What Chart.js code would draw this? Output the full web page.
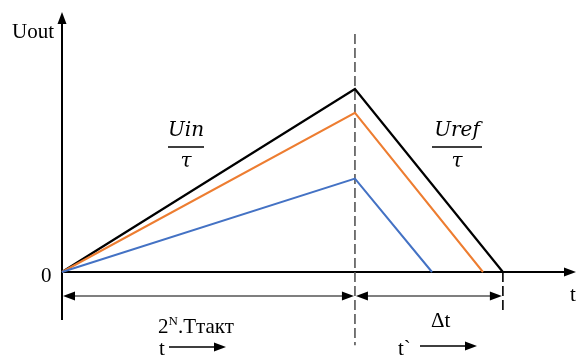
<!DOCTYPE html>
<html>
<head>
<meta charset="utf-8">
<script src="https://cdn.jsdelivr.net/npm/chart.js@4.4.1/dist/chart.umd.min.js"></script>
<style>
  html, body { margin: 0; padding: 0; background: #fff; }
  #wrap { width: 577px; height: 356px; }
</style>
</head>
<body>
<div id="wrap"><canvas id="chart" width="577" height="356"></canvas></div>
<script>
// time in units of 2^N*Ttakt, voltage normalised to the highest peak
const seriesNames = ['Uin low', 'Uin mid', 'Uin high'];
const seriesColors = ['#4472C4', '#ED7D31', '#000000'];
const peakTime = 1;
const peakValues = [0.51, 0.87, 1.0];
const endTimes = [1.263, 1.437, 1.505];

const xMax = 1.758;
const yMax = 1.486;

const datasets = seriesNames.map(function (name, i) {
  return {
    label: name,
    data: [
      { x: 0, y: 0 },
      { x: peakTime, y: peakValues[i] },
      { x: endTimes[i], y: 0 },
    ],
    borderColor: seriesColors[i],
    borderWidth: i === 2 ? 2.2 : 2,
    showLine: true,
    pointRadius: 0,
    tension: 0,
    clip: false,
  };
});

function arrowHead(ctx, x, y, dir) {
  // dir: 'up', 'right', 'left'
  ctx.beginPath();
  if (dir === 'up') {
    ctx.moveTo(x, y); ctx.lineTo(x - 4.5, y + 12); ctx.lineTo(x + 4.5, y + 12);
  } else if (dir === 'right') {
    ctx.moveTo(x, y); ctx.lineTo(x - 12, y - 4.5); ctx.lineTo(x - 12, y + 4.5);
  } else {
    ctx.moveTo(x, y); ctx.lineTo(x + 12, y - 4.5); ctx.lineTo(x + 12, y + 4.5);
  }
  ctx.closePath();
  ctx.fill();
}

const diagramPlugin = {
  id: 'diagram',
  beforeDatasetsDraw(chart) {
    const ctx = chart.ctx;
    const xs = chart.scales.x, ys = chart.scales.y;
    const px = (v) => xs.getPixelForValue(v);
    const py = (v) => ys.getPixelForValue(v);
    const x0 = px(0), y0 = py(0);
    ctx.save();
    ctx.fillStyle = '#000';
    ctx.strokeStyle = '#000';

    // y axis
    ctx.lineWidth = 2;
    ctx.beginPath();
    ctx.moveTo(x0, py(-0.262));
    ctx.lineTo(x0, py(1.40));
    ctx.stroke();
    arrowHead(ctx, x0, py(1.42), 'up');

    // x axis
    ctx.beginPath();
    ctx.moveTo(x0, y0);
    ctx.lineTo(px(xMax) - 8, y0);
    ctx.stroke();
    arrowHead(ctx, px(xMax) - 1, y0, 'right');

    // dashed vertical line at peak time
    ctx.strokeStyle = '#555';
    ctx.lineWidth = 1.6;
    ctx.setLineDash([10, 4]);
    ctx.beginPath();
    ctx.moveTo(px(peakTime), py(1.30));
    ctx.lineTo(px(peakTime), py(-0.40));
    ctx.stroke();
    // dashed tick at end of conversion
    const tEnd = endTimes[endTimes.length - 1];
    ctx.strokeStyle = '#000';
    ctx.beginPath();
    ctx.moveTo(px(tEnd), y0);
    ctx.lineTo(px(tEnd), py(-0.21));
    ctx.stroke();
    ctx.setLineDash([]);

    // dimension arrows
    const yd = py(-0.131);
    ctx.lineWidth = 1.2;
    ctx.beginPath();
    ctx.moveTo(x0 + 4, yd); ctx.lineTo(px(peakTime) - 4, yd);
    ctx.moveTo(px(peakTime) + 4, yd); ctx.lineTo(px(tEnd) - 4, yd);
    ctx.stroke();
    arrowHead(ctx, x0 + 1, yd, 'left');
    arrowHead(ctx, px(peakTime) - 1, yd, 'right');
    arrowHead(ctx, px(peakTime) + 1, yd, 'left');
    arrowHead(ctx, px(tEnd) - 1, yd, 'right');

    // small time arrows
    ctx.lineWidth = 1.5;
    ctx.beginPath();
    ctx.moveTo(169, 347); ctx.lineTo(218, 347);
    ctx.moveTo(420, 346); ctx.lineTo(469, 346);
    ctx.stroke();
    arrowHead(ctx, 226, 347, 'right');
    arrowHead(ctx, 477, 346, 'right');

    // labels
    ctx.font = '21px "Liberation Serif"';
    ctx.textBaseline = 'alphabetic';
    ctx.textAlign = 'left';
    ctx.fillText('Uout', 12, 38);
    ctx.fillText('0', 41, 282);
    ctx.fillText('t', 570, 301);
    ctx.fillText('t', 159, 355);
    ctx.fillText('t`', 398, 355);
    ctx.fillText('\u0394t', 431, 327);

    ctx.fillText('2', 158, 333);
    let w = ctx.measureText('2').width;
    ctx.font = '13px "Liberation Serif"';
    ctx.fillText('N', 158 + w, 325);
    w += ctx.measureText('N').width;
    ctx.font = '21px "Liberation Serif"';
    ctx.fillText('.T\u0442\u0430\u043a\u0442', 158 + w, 333);

    // fractions
    ctx.font = 'italic 20px "DejaVu Serif"';
    ctx.textAlign = 'center';
    ctx.fillText('Uin', 186, 136);
    ctx.fillText('Uref', 457, 136);
    ctx.fillText('\u03c4', 186, 167);
    ctx.fillText('\u03c4', 457, 167);
    ctx.lineWidth = 1.4;
    ctx.beginPath();
    ctx.moveTo(168, 147); ctx.lineTo(204, 147);
    ctx.moveTo(432, 147); ctx.lineTo(482, 147);
    ctx.stroke();

    ctx.restore();
  },
};

new Chart(document.getElementById('chart').getContext('2d'), {
  type: 'scatter',
  data: { datasets: datasets },
  options: {
    responsive: false,
    animation: false,
    layout: { padding: { left: 62, right: 0, top: 0, bottom: 84 } },
    scales: {
      x: { type: 'linear', min: 0, max: xMax, display: false },
      y: { type: 'linear', min: 0, max: yMax, display: false },
    },
    plugins: {
      legend: { display: false },
      tooltip: { enabled: false },
    },
  },
  plugins: [diagramPlugin],
});
</script>
</body>
</html>
